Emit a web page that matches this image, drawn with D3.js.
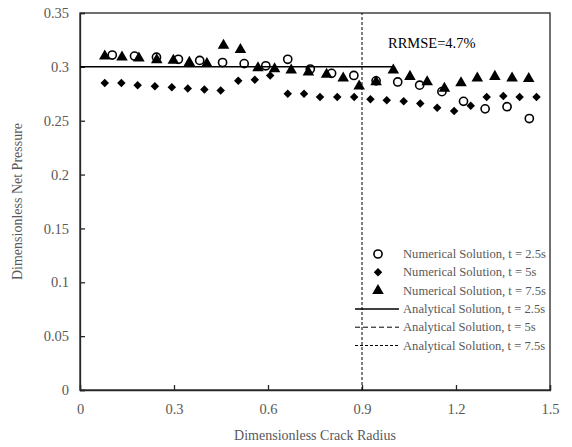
<!DOCTYPE html>
<html>
<head>
<meta charset="utf-8">
<script src="https://cdn.jsdelivr.net/npm/d3@7"></script>
<style>
  body { margin: 0; background: #fff; }
  text { font-family: 'Liberation Serif', 'DejaVu Serif', serif; }
</style>
</head>
<body>
<svg id="chart" width="572" height="447"></svg>
<script>
// numerical solution, t = 2.5s (open circles)
const xCircle = [0.103, 0.174, 0.244, 0.314, 0.382, 0.455, 0.524, 0.593, 0.663, 0.735, 0.803, 0.874, 0.945, 1.014, 1.084, 1.155, 1.224, 1.293, 1.363, 1.434]
const yCircle = [0.311, 0.310, 0.309, 0.307, 0.306, 0.304, 0.303, 0.301, 0.307, 0.298, 0.294, 0.292, 0.287, 0.286, 0.283, 0.277, 0.268, 0.261, 0.263, 0.252]

// numerical solution, t = 5s (diamonds)
const xDiamond = [0.079, 0.132, 0.184, 0.239, 0.293, 0.344, 0.397, 0.449, 0.505, 0.558, 0.607, 0.663, 0.715, 0.766, 0.821, 0.875, 0.927, 0.979, 1.033, 1.086, 1.140, 1.194, 1.247, 1.298, 1.351, 1.403, 1.457]
const yDiamond = [0.285, 0.285, 0.283, 0.282, 0.281, 0.280, 0.279, 0.278, 0.287, 0.288, 0.292, 0.275, 0.275, 0.272, 0.272, 0.272, 0.270, 0.269, 0.268, 0.266, 0.262, 0.259, 0.264, 0.272, 0.273, 0.272, 0.272]

// numerical solution, t = 7.5s (triangles)
const xTriangle = [0.079, 0.134, 0.188, 0.245, 0.298, 0.349, 0.405, 0.458, 0.512, 0.568, 0.621, 0.674, 0.729, 0.787, 0.840, 0.891, 0.945, 1.000, 1.053, 1.108, 1.163, 1.216, 1.268, 1.324, 1.379, 1.432]
const yTriangle = [0.310, 0.309, 0.308, 0.3065, 0.306, 0.304, 0.303, 0.320, 0.316, 0.299, 0.298, 0.297, 0.295, 0.293, 0.2895, 0.282, 0.286, 0.297, 0.291, 0.286, 0.280, 0.285, 0.2895, 0.291, 0.2895, 0.289]

// analytical solutions
const analytic25 = [[0, 0.3], [1.0, 0.3]]
const analytic75 = [[0.9, 0], [0.9, 0.35]]

const xTicks = [0, 0.3, 0.6, 0.9, 1.2, 1.5]
const yTicks = [0, 0.05, 0.1, 0.15, 0.2, 0.25, 0.3, 0.35]
const legendLabels = [
  'Numerical Solution, t = 2.5s',
  'Numerical Solution, t = 5s',
  'Numerical Solution, t = 7.5s',
  'Analytical Solution, t = 2.5s',
  'Analytical Solution, t = 5s',
  'Analytical Solution, t = 7.5s'
]

const svg = d3.select('#chart')
const m = { left: 80, right: 550, top: 13, bottom: 390 }
const grey = '#595959'

const x = d3.scaleLinear().domain([0, 1.5]).range([m.left, m.right])
const y = d3.scaleLinear().domain([0, 0.35]).range([m.bottom, m.top])

// frame
svg.append('rect')
  .attr('x', m.left).attr('y', m.top)
  .attr('width', m.right - m.left).attr('height', m.bottom - m.top)
  .attr('fill', 'none').attr('stroke', '#262626').attr('stroke-width', 1.3)

const xAxis = svg.append('g')
  .attr('transform', `translate(0,${m.bottom})`)
  .call(d3.axisBottom(x).tickValues(xTicks).tickSize(-5).tickPadding(14).tickFormat(d3.format('')))
const yAxis = svg.append('g')
  .attr('transform', `translate(${m.left},0)`)
  .call(d3.axisLeft(y).tickValues(yTicks).tickSize(-5).tickPadding(11).tickFormat(d3.format('')))

for (const ax of [xAxis, yAxis]) {
  ax.select('.domain').attr('stroke', '#262626').attr('stroke-width', 1.3)
  ax.selectAll('.tick line').attr('stroke', '#262626').attr('stroke-width', 1.3)
  ax.selectAll('.tick text').attr('fill', grey).style('font-size', '14.5px')
    .style('font-family', "'Liberation Serif', serif")
}

svg.append('text')
  .attr('x', (m.left + m.right) / 2).attr('y', 440)
  .attr('text-anchor', 'middle').attr('fill', grey).style('font-size', '14px')
  .text('Dimensionless Crack Radius')
svg.append('text')
  .attr('transform', `translate(22,${(m.top + m.bottom) / 2}) rotate(-90)`)
  .attr('text-anchor', 'middle').attr('fill', grey).style('font-size', '14px')
  .text('Dimensionless Net Pressure')

// analytical lines
const line = d3.line().x(d => x(d[0])).y(d => y(d[1]))
svg.append('path').datum(analytic75).attr('d', line)
  .attr('fill', 'none').attr('stroke', '#000').attr('stroke-width', 1).attr('stroke-dasharray', '3,2')
svg.append('path').datum(analytic25).attr('d', line)
  .attr('fill', 'none').attr('stroke', '#000').attr('stroke-width', 1.5)

const sym = {
  circle: d3.symbol().type(d3.symbolCircle).size(52),
  diamond: d3.symbol().type(d3.symbolSquare).size(36),
  triangle: d3.symbol().type(d3.symbolTriangle).size(58)
}

const drawPts = (xs, ys, kind) => {
  svg.append('g').selectAll('path')
    .data(xs.map((v, i) => [v, ys[i]]))
    .join('path')
    .attr('transform', d => `translate(${x(d[0])},${y(d[1])})` + (kind === 'diamond' ? ' rotate(45)' : ''))
    .attr('d', sym[kind])
    .attr('fill', kind === 'circle' ? 'none' : '#000')
    .attr('stroke', '#000')
    .attr('stroke-width', kind === 'circle' ? 1.6 : 0)
}
drawPts(xDiamond, yDiamond, 'diamond')
drawPts(xTriangle, yTriangle, 'triangle')
drawPts(xCircle, yCircle, 'circle')

svg.append('text')
  .attr('x', 388).attr('y', 48).attr('fill', '#000').style('font-size', '14.5px')
  .text('RRMSE=4.7%')

// legend
const lg = svg.append('g')
const ly0 = 254
const ldy = 18.3
legendLabels.forEach((lab, i) => {
  const yy = ly0 + i * ldy
  if (i === 0) lg.append('path').attr('transform', `translate(378,${yy})`).attr('d', sym.circle).attr('fill', 'none').attr('stroke', '#000').attr('stroke-width', 1.6)
  if (i === 1) lg.append('path').attr('transform', `translate(378,${yy}) rotate(45)`).attr('d', sym.diamond)
  if (i === 2) lg.append('path').attr('transform', `translate(378,${yy})`).attr('d', sym.triangle)
  if (i >= 3) {
    lg.append('line').attr('x1', 355).attr('x2', 399).attr('y1', yy).attr('y2', yy)
      .attr('stroke', '#000').attr('stroke-width', i === 3 ? 1.5 : 1)
      .attr('stroke-dasharray', i === 4 ? '5,3' : i === 5 ? '3,2' : null)
  }
  lg.append('text').attr('x', 403).attr('y', yy + 4).attr('fill', grey)
    .style('font-size', '12.6px').text(lab)
})
</script>
</body>
</html>
